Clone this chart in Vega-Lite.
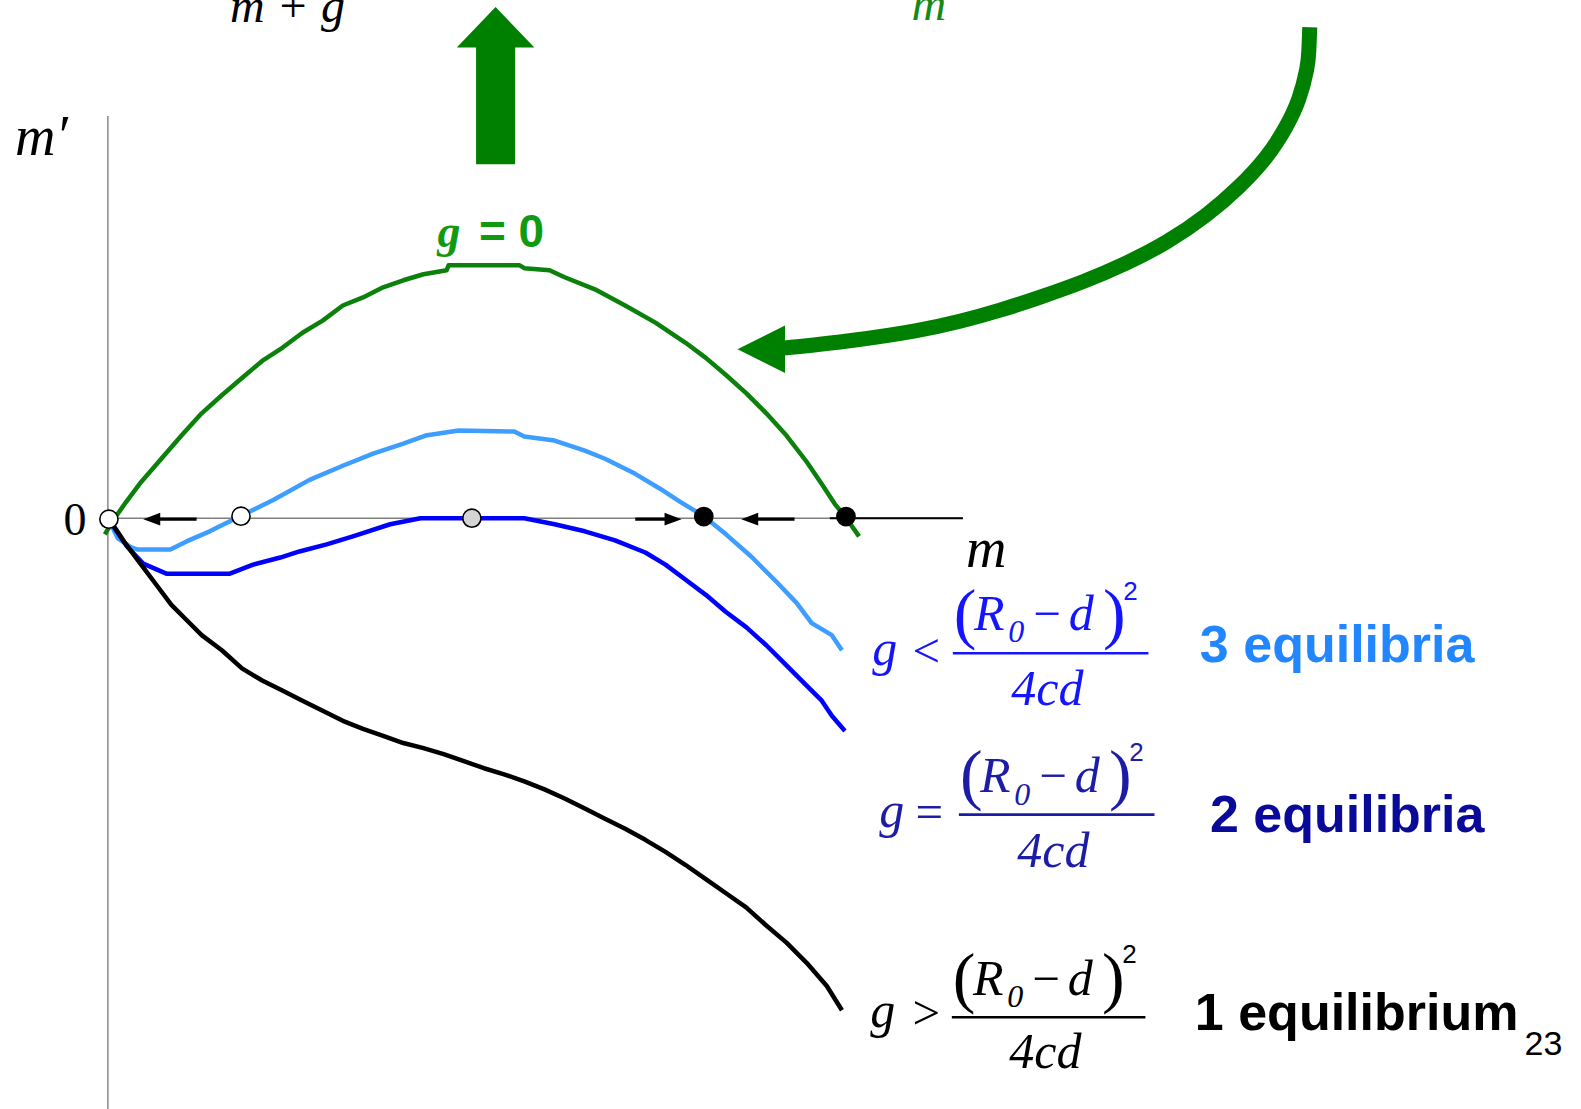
{
  "$schema": "https://vega.github.io/schema/vega-lite/v6.json",
  "width": 1581,
  "height": 1109,
  "autosize": "none",
  "padding": 0,
  "background": "white",
  "config": {"view": {"stroke": null}},
  "encoding": {
    "x": {"field": "m", "type": "quantitative", "scale": {"domain": [-1.07, 14.61], "nice": false, "zero": false}, "axis": null},
    "y": {"field": "mp", "type": "quantitative", "scale": {"domain": [-5.86, 5.14], "nice": false, "zero": false}, "axis": null}
  },
  "resolve": {"scale": {"color": "independent"}},
  "layer": [
    {
      "data": {"values": [
        {"m": 0, "mp": 3.99, "m_end": 0, "mp_end": -5.95},
        {"m": 0, "mp": 0, "m_end": 8.48, "mp_end": 0}
      ]},
      "mark": {"type": "rule", "color": "#7f7f7f", "strokeWidth": 1.4},
      "encoding": {"x2": {"field": "m_end"}, "y2": {"field": "mp_end"}}
    },
    {
      "data": {"values": [{"m": 7.16, "mp": 0, "m_end": 8.48, "mp_end": 0}]},
      "mark": {"type": "rule", "color": "#000000", "strokeWidth": 2},
      "encoding": {"x2": {"field": "m_end"}, "y2": {"field": "mp_end"}}
    },
    {
      "data": {"values": [
        {"regime": "g = 0", "m": -0.03, "mp": -0.16}, {"regime": "g = 0", "m": 0.06, "mp": -0.01},
        {"regime": "g = 0", "m": 0.18, "mp": 0.16}, {"regime": "g = 0", "m": 0.33, "mp": 0.36},
        {"regime": "g = 0", "m": 0.53, "mp": 0.59}, {"regime": "g = 0", "m": 0.73, "mp": 0.82},
        {"regime": "g = 0", "m": 0.93, "mp": 1.04}, {"regime": "g = 0", "m": 1.13, "mp": 1.22},
        {"regime": "g = 0", "m": 1.33, "mp": 1.39}, {"regime": "g = 0", "m": 1.53, "mp": 1.56},
        {"regime": "g = 0", "m": 1.73, "mp": 1.69}, {"regime": "g = 0", "m": 1.93, "mp": 1.84},
        {"regime": "g = 0", "m": 2.13, "mp": 1.96}, {"regime": "g = 0", "m": 2.33, "mp": 2.11},
        {"regime": "g = 0", "m": 2.53, "mp": 2.19}, {"regime": "g = 0", "m": 2.73, "mp": 2.29},
        {"regime": "g = 0", "m": 2.93, "mp": 2.36}, {"regime": "g = 0", "m": 3.13, "mp": 2.42},
        {"regime": "g = 0", "m": 3.36, "mp": 2.46}, {"regime": "g = 0", "m": 3.38, "mp": 2.51},
        {"regime": "g = 0", "m": 4.08, "mp": 2.51}, {"regime": "g = 0", "m": 4.13, "mp": 2.48},
        {"regime": "g = 0", "m": 4.38, "mp": 2.46}, {"regime": "g = 0", "m": 4.53, "mp": 2.39},
        {"regime": "g = 0", "m": 4.83, "mp": 2.27}, {"regime": "g = 0", "m": 5.13, "mp": 2.11},
        {"regime": "g = 0", "m": 5.43, "mp": 1.94}, {"regime": "g = 0", "m": 5.73, "mp": 1.74},
        {"regime": "g = 0", "m": 5.93, "mp": 1.59}, {"regime": "g = 0", "m": 6.13, "mp": 1.42},
        {"regime": "g = 0", "m": 6.33, "mp": 1.24}, {"regime": "g = 0", "m": 6.53, "mp": 1.04},
        {"regime": "g = 0", "m": 6.73, "mp": 0.82}, {"regime": "g = 0", "m": 6.93, "mp": 0.56},
        {"regime": "g = 0", "m": 7.08, "mp": 0.34}, {"regime": "g = 0", "m": 7.21, "mp": 0.14},
        {"regime": "g = 0", "m": 7.31, "mp": 0.02}, {"regime": "g = 0", "m": 7.45, "mp": -0.18},

        {"regime": "3 equilibria", "m": 0, "mp": 0}, {"regime": "3 equilibria", "m": 0.1, "mp": -0.2},
        {"regime": "3 equilibria", "m": 0.23, "mp": -0.29}, {"regime": "3 equilibria", "m": 0.29, "mp": -0.31},
        {"regime": "3 equilibria", "m": 0.62, "mp": -0.31}, {"regime": "3 equilibria", "m": 0.78, "mp": -0.23},
        {"regime": "3 equilibria", "m": 1.01, "mp": -0.13}, {"regime": "3 equilibria", "m": 1.31, "mp": 0.02},
        {"regime": "3 equilibria", "m": 1.64, "mp": 0.18}, {"regime": "3 equilibria", "m": 2.0, "mp": 0.38},
        {"regime": "3 equilibria", "m": 2.33, "mp": 0.52}, {"regime": "3 equilibria", "m": 2.63, "mp": 0.64},
        {"regime": "3 equilibria", "m": 2.93, "mp": 0.74}, {"regime": "3 equilibria", "m": 3.15, "mp": 0.82},
        {"regime": "3 equilibria", "m": 3.48, "mp": 0.87}, {"regime": "3 equilibria", "m": 4.03, "mp": 0.86},
        {"regime": "3 equilibria", "m": 4.13, "mp": 0.81}, {"regime": "3 equilibria", "m": 4.43, "mp": 0.77},
        {"regime": "3 equilibria", "m": 4.73, "mp": 0.67}, {"regime": "3 equilibria", "m": 4.93, "mp": 0.59},
        {"regime": "3 equilibria", "m": 5.23, "mp": 0.44}, {"regime": "3 equilibria", "m": 5.48, "mp": 0.29},
        {"regime": "3 equilibria", "m": 5.68, "mp": 0.16}, {"regime": "3 equilibria", "m": 5.91, "mp": 0.02},
        {"regime": "3 equilibria", "m": 6.13, "mp": -0.16}, {"regime": "3 equilibria", "m": 6.38, "mp": -0.38},
        {"regime": "3 equilibria", "m": 6.63, "mp": -0.63}, {"regime": "3 equilibria", "m": 6.83, "mp": -0.84},
        {"regime": "3 equilibria", "m": 6.98, "mp": -1.04}, {"regime": "3 equilibria", "m": 7.18, "mp": -1.16},
        {"regime": "3 equilibria", "m": 7.28, "mp": -1.31},

        {"regime": "2 equilibria", "m": 0, "mp": 0}, {"regime": "2 equilibria", "m": 0.19, "mp": -0.28},
        {"regime": "2 equilibria", "m": 0.35, "mp": -0.45}, {"regime": "2 equilibria", "m": 0.58, "mp": -0.55},
        {"regime": "2 equilibria", "m": 1.21, "mp": -0.55}, {"regime": "2 equilibria", "m": 1.44, "mp": -0.46},
        {"regime": "2 equilibria", "m": 1.71, "mp": -0.39}, {"regime": "2 equilibria", "m": 1.9, "mp": -0.33},
        {"regime": "2 equilibria", "m": 2.17, "mp": -0.26}, {"regime": "2 equilibria", "m": 2.43, "mp": -0.18},
        {"regime": "2 equilibria", "m": 2.8, "mp": -0.06}, {"regime": "2 equilibria", "m": 3.1, "mp": 0.0},
        {"regime": "2 equilibria", "m": 4.13, "mp": 0.0}, {"regime": "2 equilibria", "m": 4.43, "mp": -0.06},
        {"regime": "2 equilibria", "m": 4.73, "mp": -0.13}, {"regime": "2 equilibria", "m": 5.03, "mp": -0.22},
        {"regime": "2 equilibria", "m": 5.33, "mp": -0.34}, {"regime": "2 equilibria", "m": 5.53, "mp": -0.46},
        {"regime": "2 equilibria", "m": 5.73, "mp": -0.61}, {"regime": "2 equilibria", "m": 5.93, "mp": -0.76},
        {"regime": "2 equilibria", "m": 6.13, "mp": -0.93}, {"regime": "2 equilibria", "m": 6.33, "mp": -1.08},
        {"regime": "2 equilibria", "m": 6.53, "mp": -1.26}, {"regime": "2 equilibria", "m": 6.73, "mp": -1.46},
        {"regime": "2 equilibria", "m": 6.93, "mp": -1.66}, {"regime": "2 equilibria", "m": 7.08, "mp": -1.81},
        {"regime": "2 equilibria", "m": 7.18, "mp": -1.96}, {"regime": "2 equilibria", "m": 7.31, "mp": -2.11},

        {"regime": "1 equilibrium", "m": 0, "mp": 0}, {"regime": "1 equilibrium", "m": 0.08, "mp": -0.11},
        {"regime": "1 equilibrium", "m": 0.18, "mp": -0.26}, {"regime": "1 equilibrium", "m": 0.33, "mp": -0.46},
        {"regime": "1 equilibrium", "m": 0.48, "mp": -0.66}, {"regime": "1 equilibrium", "m": 0.63, "mp": -0.86},
        {"regime": "1 equilibrium", "m": 0.78, "mp": -1.01}, {"regime": "1 equilibrium", "m": 0.93, "mp": -1.16},
        {"regime": "1 equilibrium", "m": 1.13, "mp": -1.31}, {"regime": "1 equilibrium", "m": 1.33, "mp": -1.49},
        {"regime": "1 equilibrium", "m": 1.53, "mp": -1.61}, {"regime": "1 equilibrium", "m": 1.73, "mp": -1.71},
        {"regime": "1 equilibrium", "m": 1.93, "mp": -1.81}, {"regime": "1 equilibrium", "m": 2.13, "mp": -1.91},
        {"regime": "1 equilibrium", "m": 2.33, "mp": -2.01}, {"regime": "1 equilibrium", "m": 2.53, "mp": -2.09},
        {"regime": "1 equilibrium", "m": 2.73, "mp": -2.16}, {"regime": "1 equilibrium", "m": 2.93, "mp": -2.23},
        {"regime": "1 equilibrium", "m": 3.13, "mp": -2.28}, {"regime": "1 equilibrium", "m": 3.33, "mp": -2.34},
        {"regime": "1 equilibrium", "m": 3.53, "mp": -2.41}, {"regime": "1 equilibrium", "m": 3.73, "mp": -2.48},
        {"regime": "1 equilibrium", "m": 3.93, "mp": -2.54}, {"regime": "1 equilibrium", "m": 4.13, "mp": -2.61},
        {"regime": "1 equilibrium", "m": 4.33, "mp": -2.69}, {"regime": "1 equilibrium", "m": 4.53, "mp": -2.78},
        {"regime": "1 equilibrium", "m": 4.73, "mp": -2.88}, {"regime": "1 equilibrium", "m": 4.93, "mp": -2.98},
        {"regime": "1 equilibrium", "m": 5.13, "mp": -3.08}, {"regime": "1 equilibrium", "m": 5.33, "mp": -3.19},
        {"regime": "1 equilibrium", "m": 5.53, "mp": -3.31}, {"regime": "1 equilibrium", "m": 5.73, "mp": -3.44},
        {"regime": "1 equilibrium", "m": 5.93, "mp": -3.58}, {"regime": "1 equilibrium", "m": 6.13, "mp": -3.72},
        {"regime": "1 equilibrium", "m": 6.33, "mp": -3.86}, {"regime": "1 equilibrium", "m": 6.53, "mp": -4.04},
        {"regime": "1 equilibrium", "m": 6.73, "mp": -4.21}, {"regime": "1 equilibrium", "m": 6.93, "mp": -4.41},
        {"regime": "1 equilibrium", "m": 7.13, "mp": -4.64}, {"regime": "1 equilibrium", "m": 7.28, "mp": -4.88}
      ]},
      "mark": {"type": "line", "strokeWidth": 4.5, "strokeJoin": "round"},
      "encoding": {
        "color": {"field": "regime", "type": "nominal", "legend": null,
          "scale": {"domain": ["g = 0", "3 equilibria", "2 equilibria", "1 equilibrium"], "range": ["#0b800b", "#3d9eff", "#0000ff", "#000000"]}}
      }
    },
    {
      "data": {"values": [
        {"m": 0.435, "mp": -0.01, "m_end": 0.88, "mp_end": -0.01, "direction": "left"},
        {"m": 5.605, "mp": -0.01, "m_end": 5.23, "mp_end": -0.01, "direction": "right"},
        {"m": 6.365, "mp": -0.01, "m_end": 6.81, "mp_end": -0.01, "direction": "left"}
      ]},
      "layer": [
        {"mark": {"type": "rule", "color": "#000000", "strokeWidth": 3.3}, "encoding": {"x2": {"field": "m_end"}, "y2": {"field": "mp_end"}}},
        {"transform": [{"filter": "datum.direction === 'left'"}],
         "mark": {"type": "point", "shape": "M-1,0L1,-0.75L1,0.75Z", "size": 289, "filled": true, "color": "#000000", "opacity": 1}},
        {"transform": [{"filter": "datum.direction === 'right'"}],
         "mark": {"type": "point", "shape": "M1,0L-1,-0.75L-1,0.75Z", "size": 289, "filled": true, "color": "#000000", "opacity": 1}}
      ]
    },
    {
      "data": {"values": [
        {"m": 0.01, "mp": -0.01, "stability": "unstable"},
        {"m": 1.32, "mp": 0.02, "stability": "unstable"},
        {"m": 3.61, "mp": 0.0, "stability": "semi-stable"},
        {"m": 5.91, "mp": 0.016, "stability": "stable"},
        {"m": 7.32, "mp": 0.016, "stability": "stable"}
      ]},
      "mark": {"type": "point", "shape": "circle", "filled": true, "size": 330, "stroke": "#000000", "strokeWidth": 1.6, "opacity": 1},
      "encoding": {
        "fill": {"field": "stability", "type": "nominal", "legend": null,
          "scale": {"domain": ["unstable", "semi-stable", "stable"], "range": ["#ffffff", "#d4d4d4", "#000000"]}}
      }
    },
    {
      "data": {"values": [{"m": 3.845, "mp": 4.75, "m_end": 3.845, "mp_end": 3.51}]},
      "mark": {"type": "rule", "color": "#008000", "strokeWidth": 39, "strokeCap": "butt"},
      "encoding": {"x2": {"field": "m_end"}, "y2": {"field": "mp_end"}}
    },
    {
      "data": {"values": [{"m": 3.845, "mp": 4.87}]},
      "mark": {"type": "point", "shape": "M0,-0.52L1,0.52L-1,0.52Z", "size": 6022, "filled": true, "color": "#008000", "opacity": 1}
    },
    {
      "data": {"values": [
        {"seq": 1, "m": 11.92, "mp": 4.87}, {"seq": 2, "m": 11.91, "mp": 4.6},
        {"seq": 3, "m": 11.9, "mp": 4.48},
        {"seq": 4, "m": 11.82, "mp": 4.15}, {"seq": 5, "m": 11.69, "mp": 3.88},
        {"seq": 6, "m": 11.5, "mp": 3.58}, {"seq": 7, "m": 11.23, "mp": 3.29},
        {"seq": 8, "m": 10.9, "mp": 3.0}, {"seq": 9, "m": 10.5, "mp": 2.73},
        {"seq": 10, "m": 10.11, "mp": 2.53}, {"seq": 11, "m": 9.67, "mp": 2.34},
        {"seq": 12, "m": 9.24, "mp": 2.19}, {"seq": 13, "m": 8.85, "mp": 2.06},
        {"seq": 14, "m": 8.45, "mp": 1.95}, {"seq": 15, "m": 8.05, "mp": 1.86},
        {"seq": 16, "m": 7.39, "mp": 1.76}, {"seq": 17, "m": 6.74, "mp": 1.69},
        {"seq": 18, "m": 6.66, "mp": 1.685}
      ]},
      "mark": {"type": "line", "color": "#008000", "strokeWidth": 15, "strokeCap": "butt", "interpolate": "basis"},
      "encoding": {"order": {"field": "seq", "type": "quantitative"}}
    },
    {
      "data": {"values": [{"m": 6.48, "mp": 1.675}]},
      "mark": {"type": "point", "shape": "M-1,0L1,-1L1,1Z", "size": 2256, "filled": true, "color": "#008000", "opacity": 1}
    },
    {
      "data": {"values": [
        {"label": "m′", "m": -0.92, "mp": 3.6},
        {"label": "m", "m": 8.51, "mp": -0.48}
      ]},
      "mark": {"type": "text", "align": "left", "baseline": "alphabetic", "font": "Liberation Serif", "fontStyle": "italic", "fontSize": 56, "color": "#000000"},
      "encoding": {"text": {"field": "label"}}
    },
    {
      "data": {"values": [{"label": "m + g", "m": 1.21, "mp": 4.925}]},
      "mark": {"type": "text", "align": "left", "baseline": "alphabetic", "font": "Liberation Serif", "fontStyle": "italic", "fontSize": 48, "color": "#000000"},
      "encoding": {"text": {"field": "label"}}
    },
    {
      "data": {"values": [{"label": "m", "m": 7.97, "mp": 4.94}]},
      "mark": {"type": "text", "align": "left", "baseline": "alphabetic", "font": "Liberation Serif", "fontStyle": "italic", "fontSize": 48, "color": "#148a14"},
      "encoding": {"text": {"field": "label"}}
    },
    {
      "data": {"values": [{"label": "0", "m": -0.325, "mp": -0.17}]},
      "mark": {"type": "text", "align": "center", "baseline": "alphabetic", "font": "Liberation Serif", "fontSize": 46, "color": "#000000"},
      "encoding": {"text": {"field": "label"}}
    },
    {
      "data": {"values": [{"label": "g", "m": 3.27, "mp": 2.69}]},
      "mark": {"type": "text", "align": "left", "baseline": "alphabetic", "font": "Liberation Serif", "fontStyle": "italic", "fontWeight": "bold", "fontSize": 46, "color": "#119a11"},
      "encoding": {"text": {"field": "label"}}
    },
    {
      "data": {"values": [{"label": "= 0", "m": 3.68, "mp": 2.69}]},
      "mark": {"type": "text", "align": "left", "baseline": "alphabetic", "font": "Liberation Sans", "fontWeight": "bold", "fontSize": 46, "color": "#119a11"},
      "encoding": {"text": {"field": "label"}}
    },
    {
      "data": {"values": [
        {"regime": "3 equilibria", "part": "italic", "glyph": "g", "m": 7.58, "mp": -1.46},
        {"regime": "3 equilibria", "part": "op", "glyph": "<", "m": 7.98, "mp": -1.48},
        {"regime": "3 equilibria", "part": "paren", "glyph": "(", "m": 8.39, "mp": -1.17},
        {"regime": "3 equilibria", "part": "italic", "glyph": "R", "m": 8.59, "mp": -1.11},
        {"regime": "3 equilibria", "part": "sub", "glyph": "0", "m": 8.93, "mp": -1.23},
        {"regime": "3 equilibria", "part": "op", "glyph": "−", "m": 9.18, "mp": -1.11},
        {"regime": "3 equilibria", "part": "italic", "glyph": "d", "m": 9.53, "mp": -1.11},
        {"regime": "3 equilibria", "part": "paren", "glyph": ")", "m": 9.87, "mp": -1.17},
        {"regime": "3 equilibria", "part": "sup", "glyph": "2", "m": 10.07, "mp": -0.81},
        {"regime": "3 equilibria", "part": "italic", "glyph": "4cd", "m": 8.96, "mp": -1.85},

        {"regime": "2 equilibria", "part": "italic", "glyph": "g", "m": 7.65, "mp": -3.06},
        {"regime": "2 equilibria", "part": "op", "glyph": "=", "m": 8.01, "mp": -3.07},
        {"regime": "2 equilibria", "part": "paren", "glyph": "(", "m": 8.45, "mp": -2.77},
        {"regime": "2 equilibria", "part": "italic", "glyph": "R", "m": 8.65, "mp": -2.72},
        {"regime": "2 equilibria", "part": "sub", "glyph": "0", "m": 8.99, "mp": -2.84},
        {"regime": "2 equilibria", "part": "op", "glyph": "−", "m": 9.24, "mp": -2.72},
        {"regime": "2 equilibria", "part": "italic", "glyph": "d", "m": 9.59, "mp": -2.72},
        {"regime": "2 equilibria", "part": "paren", "glyph": ")", "m": 9.93, "mp": -2.77},
        {"regime": "2 equilibria", "part": "sup", "glyph": "2", "m": 10.13, "mp": -2.41},
        {"regime": "2 equilibria", "part": "italic", "glyph": "4cd", "m": 9.02, "mp": -3.46},

        {"regime": "1 equilibrium", "part": "italic", "glyph": "g", "m": 7.56, "mp": -5.05},
        {"regime": "1 equilibrium", "part": "op", "glyph": ">", "m": 7.98, "mp": -5.07},
        {"regime": "1 equilibrium", "part": "paren", "glyph": "(", "m": 8.38, "mp": -4.78},
        {"regime": "1 equilibrium", "part": "italic", "glyph": "R", "m": 8.58, "mp": -4.73},
        {"regime": "1 equilibrium", "part": "sub", "glyph": "0", "m": 8.92, "mp": -4.85},
        {"regime": "1 equilibrium", "part": "op", "glyph": "−", "m": 9.17, "mp": -4.73},
        {"regime": "1 equilibrium", "part": "italic", "glyph": "d", "m": 9.52, "mp": -4.73},
        {"regime": "1 equilibrium", "part": "paren", "glyph": ")", "m": 9.86, "mp": -4.78},
        {"regime": "1 equilibrium", "part": "sup", "glyph": "2", "m": 10.06, "mp": -4.41},
        {"regime": "1 equilibrium", "part": "italic", "glyph": "4cd", "m": 8.94, "mp": -5.45}
      ]},
      "layer": [
        {
          "data": {"values": [
            {"regime": "3 equilibria", "m": 8.38, "mp": -1.34, "m_end": 10.32, "mp_end": -1.34},
            {"regime": "2 equilibria", "m": 8.44, "mp": -2.94, "m_end": 10.38, "mp_end": -2.94},
            {"regime": "1 equilibrium", "m": 8.37, "mp": -4.95, "m_end": 10.29, "mp_end": -4.95}
          ]},
          "mark": {"type": "rule", "strokeWidth": 2.6},
          "encoding": {
            "x2": {"field": "m_end"}, "y2": {"field": "mp_end"},
            "color": {"field": "regime", "type": "nominal", "legend": null,
              "scale": {"domain": ["3 equilibria", "2 equilibria", "1 equilibrium"], "range": ["#1414ff", "#1c1ca6", "#000000"]}}
          }
        },
        {
          "transform": [{"filter": "datum.part === 'italic'"}],
          "mark": {"type": "text", "align": "left", "baseline": "alphabetic", "font": "Liberation Serif", "fontStyle": "italic", "fontSize": 50},
          "encoding": {
            "text": {"field": "glyph"},
            "color": {"field": "regime", "type": "nominal", "legend": null,
              "scale": {"domain": ["3 equilibria", "2 equilibria", "1 equilibrium"], "range": ["#1414ff", "#1c1ca6", "#000000"]}}
          }
        },
        {
          "transform": [{"filter": "datum.part === 'op'"}],
          "mark": {"type": "text", "align": "left", "baseline": "alphabetic", "font": "Liberation Serif", "fontSize": 49},
          "encoding": {
            "text": {"field": "glyph"},
            "color": {"field": "regime", "type": "nominal", "legend": null,
              "scale": {"domain": ["3 equilibria", "2 equilibria", "1 equilibrium"], "range": ["#1414ff", "#1c1ca6", "#000000"]}}
          }
        },
        {
          "transform": [{"filter": "datum.part === 'paren'"}],
          "mark": {"type": "text", "align": "left", "baseline": "alphabetic", "font": "Liberation Serif", "fontSize": 68},
          "encoding": {
            "text": {"field": "glyph"},
            "color": {"field": "regime", "type": "nominal", "legend": null,
              "scale": {"domain": ["3 equilibria", "2 equilibria", "1 equilibrium"], "range": ["#1414ff", "#1c1ca6", "#000000"]}}
          }
        },
        {
          "transform": [{"filter": "datum.part === 'sub'"}],
          "mark": {"type": "text", "align": "left", "baseline": "alphabetic", "font": "Liberation Serif", "fontStyle": "italic", "fontSize": 32},
          "encoding": {
            "text": {"field": "glyph"},
            "color": {"field": "regime", "type": "nominal", "legend": null,
              "scale": {"domain": ["3 equilibria", "2 equilibria", "1 equilibrium"], "range": ["#1414ff", "#1c1ca6", "#000000"]}}
          }
        },
        {
          "transform": [{"filter": "datum.part === 'sup'"}],
          "mark": {"type": "text", "align": "left", "baseline": "alphabetic", "font": "Liberation Sans", "fontSize": 26},
          "encoding": {
            "text": {"field": "glyph"},
            "color": {"field": "regime", "type": "nominal", "legend": null,
              "scale": {"domain": ["3 equilibria", "2 equilibria", "1 equilibrium"], "range": ["#1414ff", "#1c1ca6", "#000000"]}}
          }
        }
      ]
    },
    {
      "data": {"values": [
        {"regime": "3 equilibria", "m": 10.83, "mp": -1.43},
        {"regime": "2 equilibria", "m": 10.93, "mp": -3.11},
        {"regime": "1 equilibrium", "m": 10.78, "mp": -5.08}
      ]},
      "mark": {"type": "text", "align": "left", "baseline": "alphabetic", "font": "Liberation Sans", "fontWeight": "bold", "fontSize": 52},
      "encoding": {
        "text": {"field": "regime"},
        "color": {"field": "regime", "type": "nominal", "legend": null,
          "scale": {"domain": ["3 equilibria", "2 equilibria", "1 equilibrium"], "range": ["#2286ff", "#0a0a9a", "#000000"]}}
      }
    },
    {
      "data": {"values": [{"label": "23", "m": 14.05, "mp": -5.32}]},
      "mark": {"type": "text", "align": "left", "baseline": "alphabetic", "font": "Liberation Sans", "fontSize": 34, "color": "#000000"},
      "encoding": {"text": {"field": "label"}}
    }
  ]
}
